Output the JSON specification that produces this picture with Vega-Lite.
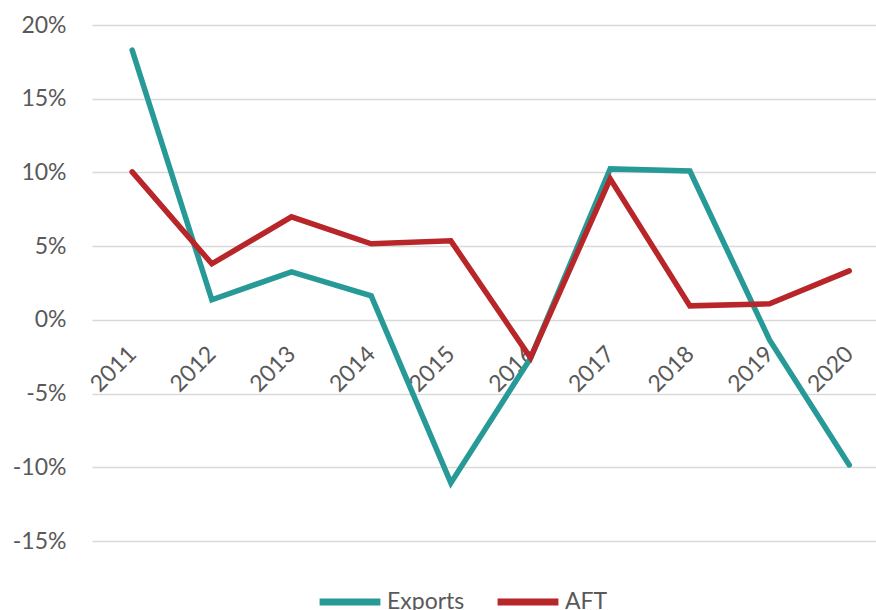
{
  "$schema": "https://vega.github.io/schema/vega-lite/v6.json",
  "autosize": "none",
  "padding": {"left": 92, "top": 25, "right": 0, "bottom": 69},
  "width": 784,
  "height": 516,
  "background": "white",
  "data": {
    "values": [
      {"year": "2011", "series": "Exports", "value": 0.183},
      {"year": "2012", "series": "Exports", "value": 0.0136},
      {"year": "2013", "series": "Exports", "value": 0.0326},
      {"year": "2014", "series": "Exports", "value": 0.0163},
      {"year": "2015", "series": "Exports", "value": -0.1106},
      {"year": "2016", "series": "Exports", "value": -0.026},
      {"year": "2017", "series": "Exports", "value": 0.1024},
      {"year": "2018", "series": "Exports", "value": 0.101},
      {"year": "2019", "series": "Exports", "value": -0.0136},
      {"year": "2020", "series": "Exports", "value": -0.0984},
      {"year": "2011", "series": "AFT", "value": 0.1004},
      {"year": "2012", "series": "AFT", "value": 0.038},
      {"year": "2013", "series": "AFT", "value": 0.0699},
      {"year": "2014", "series": "AFT", "value": 0.0516},
      {"year": "2015", "series": "AFT", "value": 0.0536},
      {"year": "2016", "series": "AFT", "value": -0.0258},
      {"year": "2017", "series": "AFT", "value": 0.0957},
      {"year": "2018", "series": "AFT", "value": 0.0095},
      {"year": "2019", "series": "AFT", "value": 0.0109},
      {"year": "2020", "series": "AFT", "value": 0.0332}
    ]
  },
  "mark": {"type": "line", "strokeWidth": 5.5, "strokeCap": "round"},
  "encoding": {
    "x": {
      "field": "year",
      "type": "ordinal",
      "scale": {"type": "point", "padding": 0.42, "align": 0.6},
      "axis": {
        "title": null,
        "offset": -221,
        "domain": false,
        "ticks": false,
        "grid": false,
        "labelAngle": -45,
        "labelAlign": "right",
        "labelBaseline": "middle",
        "labelPadding": 30,
        "labelFont": "Lato",
        "labelFontSize": 23,
        "labelColor": "#595959"
      }
    },
    "y": {
      "field": "value",
      "type": "quantitative",
      "scale": {"domain": [-0.15, 0.2], "nice": false, "zero": false},
      "axis": {
        "title": null,
        "values": [-0.15, -0.1, -0.05, 0, 0.05, 0.1, 0.15, 0.2],
        "labelExpr": "replace(format(datum.value, '.0%'), '\u2212', '-')",
        "domain": false,
        "ticks": false,
        "gridColor": "#d9d9d9",
        "gridWidth": 1.5,
        "labelPadding": 26,
        "labelFont": "Lato",
        "labelFontSize": 23,
        "labelColor": "#595959"
      }
    },
    "color": {
      "field": "series",
      "type": "nominal",
      "sort": ["Exports", "AFT"],
      "scale": {"domain": ["Exports", "AFT"], "range": ["#279A97", "#B8262A"]},
      "legend": {
        "title": null,
        "orient": "none",
        "direction": "horizontal",
        "legendX": 224,
        "legendY": 543,
        "symbolType": "stroke",
        "symbolSize": 3700,
        "symbolStrokeWidth": 7,
        "labelFont": "Lato",
        "labelFontSize": 23,
        "labelColor": "#595959",
        "labelOffset": 3,
        "columnPadding": 18
      }
    }
  },
  "config": {"view": {"stroke": null}}
}
